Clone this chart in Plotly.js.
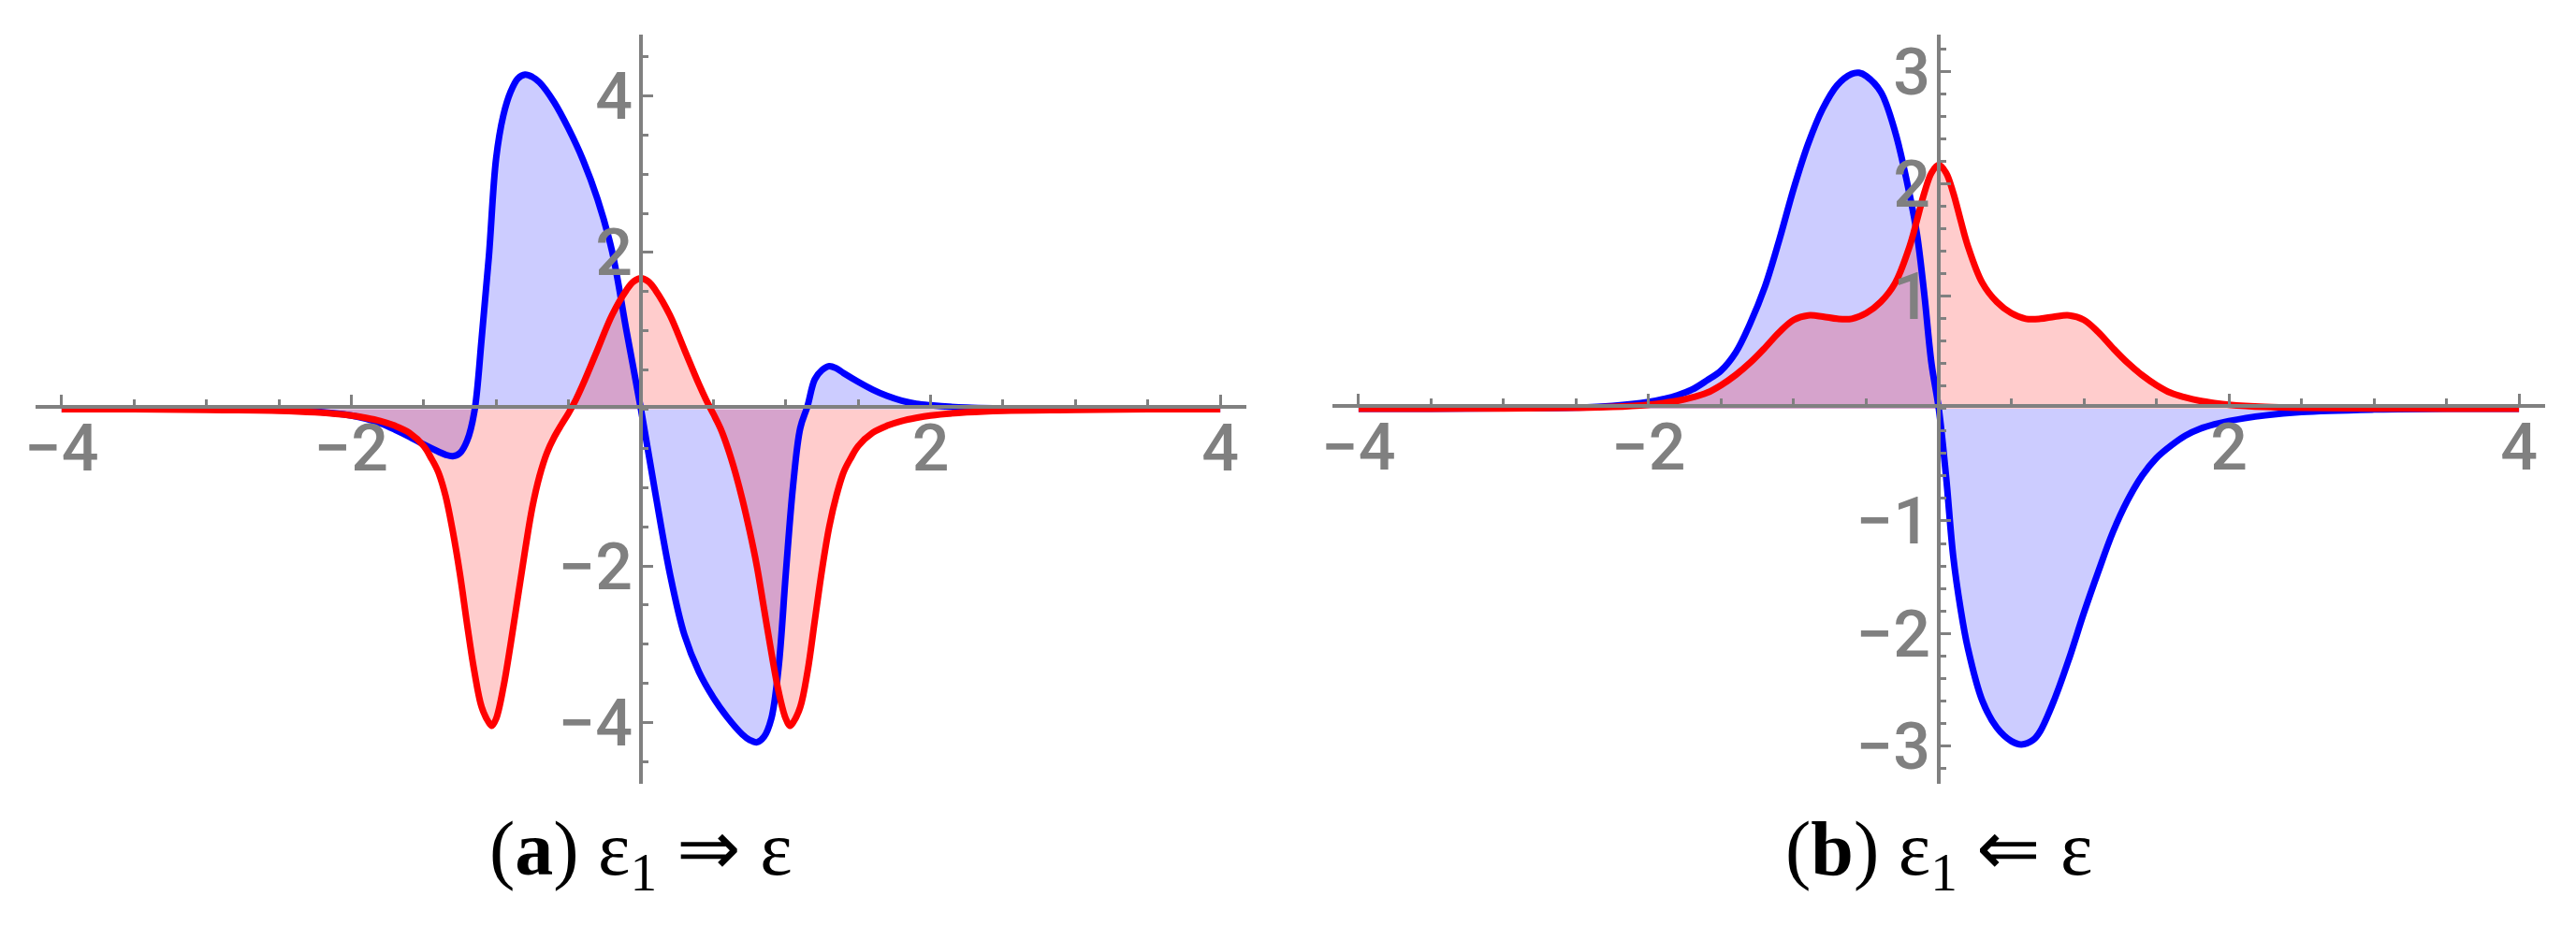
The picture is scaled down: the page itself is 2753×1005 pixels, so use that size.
<!DOCTYPE html>
<html>
<head>
<meta charset="utf-8">
<script src="https://cdn.plot.ly/plotly-3.0.1.min.js"></script>
<style>
  html, body { margin: 0; padding: 0; background: #fff; }
  #plot { width: 2753px; height: 1005px; }
</style>
</head>
<body>
<div id="plot"></div>
<script>
// (a) eps1 => eps : values
const aBlueX = [-4, -3.5, -3, -2.5, -2.25, -2.0, -1.9, -1.8, -1.7, -1.6, -1.5, -1.4, -1.35, -1.3, -1.25, -1.2, -1.15, -1.1, -1.05, -1.0,
  -0.95, -0.9, -0.85, -0.8, -0.75, -0.7, -0.6, -0.5, -0.4, -0.3, -0.2, -0.1, 0, 0.1, 0.2, 0.3, 0.4, 0.5, 0.6, 0.7, 0.75, 0.8,
  0.85, 0.9, 0.95, 1.0, 1.05, 1.1, 1.15, 1.2, 1.25, 1.3, 1.35, 1.4, 1.5, 1.6, 1.7, 1.8, 1.9, 2.0, 2.25, 2.5, 3, 3.5, 4];
const aBlueY = [0, 0, 0, -0.01, -0.03, -0.08, -0.12, -0.18, -0.26, -0.35, -0.45, -0.54, -0.58, -0.6, -0.56, -0.4, -0.03, 0.9, 1.95, 3.2,
  3.75, 4.05, 4.22, 4.27, 4.24, 4.17, 3.92, 3.58, 3.18, 2.68, 2.02, 1.0, 0, -1.08, -2.1, -2.88, -3.35, -3.68, -3.94, -4.15, -4.22, -4.25,
  -4.18, -3.95, -3.3, -2.1, -0.98, -0.24, 0.04, 0.38, 0.5, 0.55, 0.52, 0.46, 0.35, 0.25, 0.17, 0.11, 0.07, 0.05, 0.02, 0.01, 0, 0, 0];

const aRedX = [-4, -3.5, -3, -2.5, -2.25, -2.0, -1.9, -1.8, -1.7, -1.6, -1.5, -1.45, -1.4, -1.35, -1.3, -1.25, -1.2, -1.15, -1.1, -1.05, -1.03,
  -1.0, -0.95, -0.9, -0.85, -0.8, -0.75, -0.7, -0.65, -0.6, -0.55, -0.5, -0.45, -0.4, -0.3, -0.2, -0.1, -0.05, 0,
  0.05, 0.1, 0.2, 0.3, 0.4, 0.45, 0.5, 0.55, 0.6, 0.65, 0.7, 0.75, 0.8, 0.85, 0.9, 0.95, 1.0, 1.03,
  1.05, 1.1, 1.15, 1.2, 1.25, 1.3, 1.35, 1.4, 1.45, 1.5, 1.6, 1.7, 1.8, 1.9, 2.0, 2.25, 2.5, 3, 3.5, 4];
const aRedY = [0, 0, -0.01, -0.02, -0.04, -0.08, -0.11, -0.15, -0.21, -0.3, -0.47, -0.62, -0.8, -1.1, -1.55, -2.1, -2.75, -3.35, -3.8, -4.0, -4.04,
  -3.95, -3.55, -3.0, -2.4, -1.8, -1.25, -0.85, -0.56, -0.36, -0.2, -0.05, 0.12, 0.32, 0.76, 1.2, 1.52, 1.63, 1.67,
  1.63, 1.52, 1.2, 0.76, 0.32, 0.12, -0.06, -0.25, -0.5, -0.8, -1.15, -1.55, -2.0, -2.55, -3.1, -3.6, -3.95, -4.04,
  -4.0, -3.8, -3.35, -2.7, -2.05, -1.5, -1.1, -0.8, -0.62, -0.47, -0.3, -0.21, -0.15, -0.11, -0.08, -0.04, -0.02, -0.01, 0, 0];

// (b) eps1 <= eps
const bBlueX = [-4, -3.5, -3, -2.5, -2.25, -2.0, -1.9, -1.8, -1.7, -1.6, -1.5, -1.4, -1.3, -1.2, -1.1, -1.0, -0.9, -0.8, -0.7, -0.6, -0.55,
  -0.5, -0.4, -0.3, -0.2, -0.15, -0.1, -0.05, 0, 0.05, 0.1, 0.15, 0.2, 0.3, 0.4, 0.5, 0.57, 0.65, 0.7, 0.8, 0.9, 1.0,
  1.1, 1.2, 1.3, 1.4, 1.5, 1.6, 1.7, 1.8, 1.9, 2.0, 2.25, 2.5, 3, 3.5, 4];
const bBlueY = [0, 0, 0.003, 0.01, 0.025, 0.06, 0.085, 0.12, 0.17, 0.25, 0.34, 0.5, 0.76, 1.08, 1.5, 1.96, 2.36, 2.67, 2.88, 2.98, 2.99,
  2.96, 2.82, 2.46, 1.9, 1.55, 1.02, 0.4, 0, -0.6, -1.32, -1.78, -2.13, -2.6, -2.84, -2.96, -2.99, -2.95, -2.87, -2.58, -2.22, -1.82,
  -1.45, -1.1, -0.82, -0.6, -0.44, -0.33, -0.24, -0.18, -0.14, -0.11, -0.06, -0.03, -0.008, 0, 0];

const bRedX = [-4, -3.5, -3, -2.5, -2.25, -2.0, -1.9, -1.8, -1.7, -1.6, -1.5, -1.4, -1.3, -1.2, -1.1, -1.0, -0.9, -0.8, -0.7, -0.6,
  -0.5, -0.4, -0.3, -0.2, -0.15, -0.1, -0.05, 0, 0.05, 0.1, 0.15, 0.2, 0.3, 0.4, 0.5, 0.6, 0.7, 0.8, 0.9, 1.0,
  1.1, 1.2, 1.3, 1.4, 1.5, 1.6, 1.7, 1.8, 1.9, 2.0, 2.25, 2.5, 3, 3.5, 4];
const bRedY = [0, 0, 0.002, 0.007, 0.015, 0.035, 0.05, 0.07, 0.1, 0.14, 0.21, 0.3, 0.41, 0.54, 0.68, 0.79, 0.83, 0.82, 0.8, 0.8,
  0.85, 0.95, 1.12, 1.45, 1.68, 1.92, 2.1, 2.17, 2.1, 1.92, 1.68, 1.45, 1.12, 0.95, 0.85, 0.8, 0.8, 0.82, 0.83, 0.79,
  0.68, 0.54, 0.41, 0.3, 0.21, 0.14, 0.1, 0.07, 0.05, 0.035, 0.015, 0.007, 0.002, 0, 0];

// tick labels (0 is not labelled)
const xTickVals = [-4, -2, 2, 4];
const aYTickVals = [-4, -2, 2, 4];
const bYTickVals = [-3, -2, -1, 1, 2, 3];

const captions = ['(<b>a</b>) ε<sub>1</sub> ⇒ ε', '(<b>b</b>) ε<sub>1</sub> ⇐ ε'];

const W = 2753, H = 1005;
const gray = '#808080';
const blue = '#0000ff', red = '#ff0000';
const blueFill = 'rgba(0,0,255,0.2)', redFill = 'rgba(255,0,0,0.2)';
const tickFont = { family: 'Roboto, Liberation Sans, Arial, sans-serif', size: 70, weight: 500, color: gray };

const yDomain = [1 - 838 / H, 1 - 37 / H];
const aXDomain = [38 / W, 1332 / W];
const bXDomain = [1424 / W, 2720 / W];
const xRange = [-4.18, 4.18];
const aYRange = [-4.78, 4.78];
const bYRange = [-3.34, 3.33];

// paper position of data zero inside a domain
function zeroAt (range, domain) {
  return domain[0] + (0 - range[0]) / (range[1] - range[0]) * (domain[1] - domain[0]);
}

function fillTrace (x, y, color, xa, ya) {
  return { x, y, xaxis: xa, yaxis: ya, type: 'scatter', mode: 'lines', fill: 'tozeroy',
    fillcolor: color, line: { width: 0, shape: 'spline', smoothing: 1 }, hoverinfo: 'skip' };
}

function lineTrace (x, y, color, xa, ya) {
  return { x, y, xaxis: xa, yaxis: ya, type: 'scatter', mode: 'lines',
    line: { color, width: 7, shape: 'spline', smoothing: 1 }, hoverinfo: 'skip' };
}

function xAxis (domain, pos) {
  return {
    domain, range: xRange, anchor: 'free', position: pos + 3 / H,
    showline: true, linecolor: gray, linewidth: 4, showgrid: false, zeroline: false,
    ticks: 'inside', ticklen: 11, tickwidth: 3, tickcolor: gray,
    tickmode: 'array', tickvals: xTickVals, tickfont: tickFont, ticklabelstandoff: -18,
    minor: { tickmode: 'linear', tick0: 0, dtick: 0.5, ticks: 'inside', ticklen: 6, tickwidth: 3, tickcolor: gray },
    fixedrange: true
  };
}

function yAxis (range, pos, tickvals, dminor) {
  return {
    domain: yDomain, range, anchor: 'free', position: pos,
    showline: true, linecolor: gray, linewidth: 4, showgrid: false, zeroline: false,
    ticks: 'inside', ticklen: 11, tickwidth: 3, tickcolor: gray,
    tickmode: 'array', tickvals, tickfont: tickFont, ticklabelstandoff: -7,
    minor: { tickmode: 'linear', tick0: 0, dtick: dminor, ticks: 'inside', ticklen: 6, tickwidth: 3, tickcolor: gray },
    fixedrange: true
  };
}

const data = [
  fillTrace(aBlueX, aBlueY, blueFill, 'x', 'y'),
  fillTrace(aRedX, aRedY, redFill, 'x', 'y'),
  lineTrace(aBlueX, aBlueY, blue, 'x', 'y'),
  lineTrace(aRedX, aRedY, red, 'x', 'y'),
  fillTrace(bBlueX, bBlueY, blueFill, 'x2', 'y2'),
  fillTrace(bRedX, bRedY, redFill, 'x2', 'y2'),
  lineTrace(bBlueX, bBlueY, blue, 'x2', 'y2'),
  lineTrace(bRedX, bRedY, red, 'x2', 'y2')
];

const captionY = 1 - 913 / H;
const captionFont = { family: 'Liberation Serif, serif', size: 82, color: '#000' };

const layout = {
  width: W,
  height: H,
  margin: { l: 0, r: 0, t: 0, b: 0 },
  paper_bgcolor: '#fff',
  plot_bgcolor: 'rgba(0,0,0,0)',
  showlegend: false,
  xaxis: xAxis(aXDomain, zeroAt(aYRange, yDomain)),
  yaxis: yAxis(aYRange, zeroAt(xRange, aXDomain), aYTickVals, 0.5),
  xaxis2: xAxis(bXDomain, zeroAt(bYRange, yDomain)),
  yaxis2: yAxis(bYRange, zeroAt(xRange, bXDomain), bYTickVals, 0.2),
  annotations: [
    { xref: 'x', yref: 'paper', x: 0, y: captionY, text: captions[0], showarrow: false,
      xanchor: 'center', yanchor: 'middle', font: captionFont },
    { xref: 'x2', yref: 'paper', x: 0, y: captionY, text: captions[1], showarrow: false,
      xanchor: 'center', yanchor: 'middle', font: captionFont }
  ]
};

const config = { staticPlot: true, displayModeBar: false };

Plotly.newPlot('plot', data, layout, config);
</script>
</body>
</html>
